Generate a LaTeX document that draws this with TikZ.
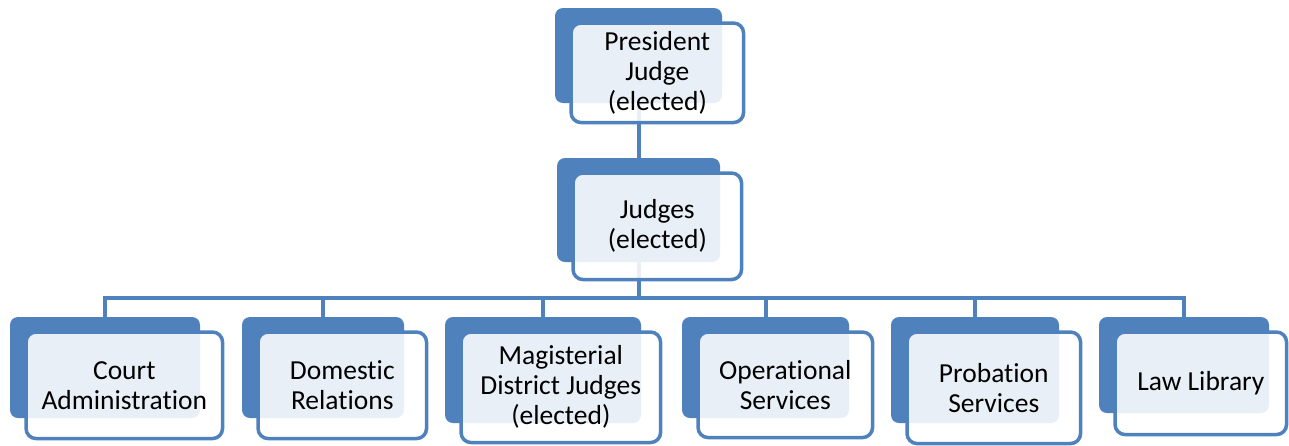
\documentclass[tikz,border=0pt]{standalone}
\usepackage{fontspec}
\setmainfont{Carlito}[RawFeature=-liga]
\usepackage{xcolor}
\usetikzlibrary{positioning}
\usetikzlibrary{backgrounds}
\definecolor{chartblue}{HTML}{4F81BD}

\begin{document}
\begin{tikzpicture}[x=1pt, y=-1pt, every text node part/.style={align=center},
  back/.style={fill=chartblue, rounded corners=8pt, inner sep=0pt},
  front/.style={draw=chartblue, line width=3.5pt, fill=white, fill opacity=0.88, text opacity=1, rounded corners=10pt, inner sep=0pt, anchor=north west, font=\fontsize{27.5}{30}\selectfont},
  link/.style={draw=chartblue, line width=4pt}]
\useasboundingbox (0,0) rectangle (1289,445);

\node (president back) [back, minimum width=167pt, minimum height=95pt] at (638.5,55.5) {};
\node (president) [front, minimum width=172.5pt, minimum height=99.5pt] at ([shift={(14.5,13.5)}]president back.north west) {President\\Judge\\(elected)};

\node (judges back) [back, minimum width=163pt, minimum height=104pt] at (638.5,210) {};
\node (judges) [front, minimum width=168.5pt, minimum height=106.5pt] at ([shift={(14.5,13.5)}]judges back.north west) {Judges\\(elected)};

\node (court back) [back, minimum width=190pt, minimum height=101pt] at (105,367.5) {};
\node (court) [front, minimum width=196.5pt, minimum height=106.5pt] at ([shift={(14.5,13.5)}]court back.north west) {Court\\Administration};

\node (domestic back) [back, minimum width=162pt, minimum height=101pt] at (323,367.5) {};
\node (domestic) [front, minimum width=168.5pt, minimum height=106.5pt] at ([shift={(14.5,13.5)}]domestic back.north west) {Domestic\\Relations};

\node (magisterial back) [back, minimum width=196pt, minimum height=106pt] at (543,370) {};
\node (magisterial) [front, minimum width=199.5pt, minimum height=110.5pt] at ([shift={(14.5,13.5)}]magisterial back.north west) {Magisterial\\District Judges\\(elected)};

\node (operational back) [back, minimum width=167pt, minimum height=101pt] at (765.5,367.5) {};
\node (operational) [front, minimum width=174.5pt, minimum height=105.5pt] at ([shift={(14.5,13.5)}]operational back.north west) {Operational\\Services};

\node (probation back) [back, minimum width=168pt, minimum height=106pt] at (975,370) {};
\node (probation) [front, minimum width=173.5pt, minimum height=111.5pt] at ([shift={(14.5,13.5)}]probation back.north west) {Probation\\Services};

\node (library back) [back, minimum width=170pt, minimum height=96pt] at (1184,365) {};
\node (library) [front, minimum width=171.5pt, minimum height=102.5pt] at ([shift={(14.5,13.5)}]library back.north west) {Law Library};

\begin{scope}[on background layer]
\coordinate (bus) at (0,298);
\draw [link] (president back.south) -- (judges back.north);
\draw [link] (judges back.south) -- (judges back.south |- bus);
\draw [link] (court back.north) -- (court back.north |- bus) -- (library back.north |- bus) -- (library back.north);
\draw [link] (domestic back.north) -- (domestic back.north |- bus);
\draw [link] (magisterial back.north) -- (magisterial back.north |- bus);
\draw [link] (operational back.north) -- (operational back.north |- bus);
\draw [link] (probation back.north) -- (probation back.north |- bus);
\end{scope}

\end{tikzpicture}
\end{document}
